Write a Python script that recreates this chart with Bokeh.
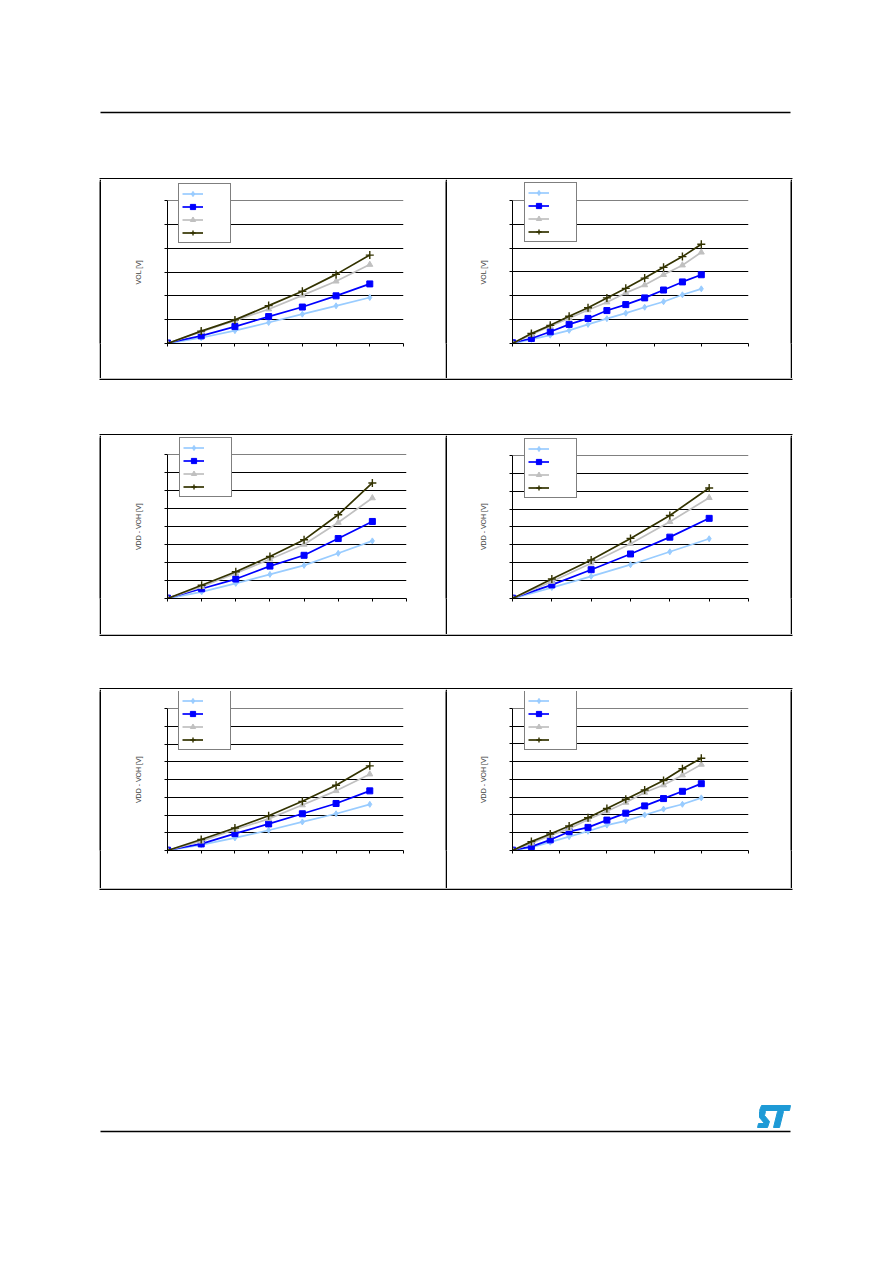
from bokeh.plotting import figure
from bokeh.layouts import column, row
from bokeh.models import Range1d, FixedTicker, Legend, LegendItem, Spacer, Grid
from bokeh.embed import file_html
from bokeh.resources import INLINE

# ---------------- data ----------------
COLORS = ["#99CCFF", "#0000FF", "#C0C0C0", "#333300"]

c1_x = [0, 1, 2, 3, 4, 5, 6]
c1_s1 = [0, 0.24, 0.54, 0.88, 1.23, 1.58, 1.93]
c1_s2 = [0.02, 0.32, 0.71, 1.13, 1.53, 2.0, 2.5]
c1_s3 = [0, 0.5, 0.96, 1.44, 2.02, 2.61, 3.31]
c1_s4 = [0, 0.52, 0.99, 1.59, 2.19, 2.9, 3.71]

c2_x = [0, 0.4, 0.8, 1.2, 1.6, 2.0, 2.4, 2.8, 3.2, 3.6, 4.0]
c2_s1 = [0, 0.17, 0.35, 0.55, 0.8, 1.04, 1.27, 1.52, 1.75, 2.04, 2.29]
c2_s2 = [0.03, 0.21, 0.49, 0.8, 1.05, 1.38, 1.63, 1.91, 2.24, 2.58, 2.88]
c2_s3 = [0, 0.38, 0.72, 1.06, 1.4, 1.73, 2.12, 2.45, 2.88, 3.28, 3.82]
c2_s4 = [0, 0.42, 0.76, 1.14, 1.5, 1.91, 2.31, 2.74, 3.19, 3.64, 4.16]

c3_x = [0, 1, 2, 3, 4, 5, 6]
c3_s1 = [0, 0.37, 0.84, 1.34, 1.84, 2.51, 3.2]
c3_s2 = [0.02, 0.54, 1.08, 1.8, 2.4, 3.33, 4.28]
c3_s3 = [0, 0.65, 1.4, 2.18, 3.0, 4.22, 5.58]
c3_s4 = [0, 0.74, 1.49, 2.33, 3.26, 4.65, 6.42]

c4_x = [0, 1, 2, 3, 4, 5]
c4_s1 = [0, 0.61, 1.24, 1.89, 2.61, 3.34]
c4_s2 = [0.02, 0.76, 1.61, 2.49, 3.43, 4.48]
c4_s3 = [0, 0.95, 1.97, 3.06, 4.29, 5.63]
c4_s4 = [0, 1.09, 2.15, 3.36, 4.64, 6.18]

c5_x = [0, 1, 2, 3, 4, 5, 6]
c5_s1 = [0, 0.32, 0.71, 1.14, 1.61, 2.07, 2.6]
c5_s2 = [0.02, 0.37, 0.95, 1.5, 2.07, 2.65, 3.36]
c5_s3 = [0, 0.52, 1.18, 1.78, 2.56, 3.36, 4.3]
c5_s4 = [0, 0.62, 1.27, 1.96, 2.77, 3.68, 4.77]

c6_x = [0, 0.4, 0.8, 1.2, 1.6, 2.0, 2.4, 2.8, 3.2, 3.6, 4.0]
c6_s1 = [0, 0.17, 0.47, 0.78, 1.08, 1.43, 1.67, 2.0, 2.33, 2.6, 2.96]
c6_s2 = [0.02, 0.22, 0.6, 1.06, 1.3, 1.71, 2.1, 2.51, 2.92, 3.33, 3.76]
c6_s3 = [0, 0.41, 0.84, 1.23, 1.74, 2.21, 2.7, 3.26, 3.68, 4.24, 4.84]
c6_s4 = [0, 0.5, 0.93, 1.38, 1.84, 2.36, 2.88, 3.4, 3.94, 4.6, 5.19]

YLABEL_OL = "VOL [V]"
YLABEL_OH = "VDD - VOH [V]"

ROW_H = 199
FRAME_TOP = 2
FONT = "Liberation Sans"
NBSP_W = 1.95  # width of a no-break space at 7px


def chart(x, series, xmax, ymax, ylabel, width, geom, leg):
    bl, br, pt, bb = geom
    frame_h = ROW_H - bb - FRAME_TOP
    plot_h = ROW_H - bb - pt
    y_end = ymax * frame_h / plot_h
    p = figure(width=width, height=ROW_H, output_backend="svg", toolbar_location=None,
               x_range=Range1d(0, xmax), y_range=Range1d(0, y_end),
               min_border_left=bl, min_border_right=br,
               min_border_top=FRAME_TOP, min_border_bottom=bb)
    p.outline_line_color = None
    p.background_fill_color = "white"
    p.border_fill_color = "white"

    p.ygrid.ticker = FixedTicker(ticks=list(range(1, ymax)))
    p.ygrid.grid_line_color = "black"
    p.ygrid.grid_line_width = 1
    p.ygrid.bounds = (0, xmax)
    # grey plot-area border (top and right)
    p.xgrid.ticker = FixedTicker(ticks=[xmax])
    p.xgrid.bounds = (0, ymax)
    p.xgrid.grid_line_color = "#808080"
    p.add_layout(Grid(dimension=1, ticker=FixedTicker(ticks=[ymax]), bounds=(0, xmax),
                      grid_line_color="#808080", grid_line_width=1))

    for ax, mx in ((p.xaxis, xmax), (p.yaxis, ymax)):
        ax.ticker = FixedTicker(ticks=list(range(0, mx + 1)))
        ax.bounds = (0, mx)
        ax.axis_line_color = "black"
        ax.axis_line_width = 1
        ax.major_tick_line_color = "black"
        ax.major_tick_out = 3
        ax.major_tick_in = 0
        ax.minor_tick_line_color = None
        ax.major_label_text_font_size = "0px"
        ax.major_label_standoff = 0
    # centre the title on the plot area (not the taller frame) with trailing no-break spaces
    pad = "\u00a0" * int(round((pt - FRAME_TOP) / NBSP_W))
    p.yaxis.axis_label = ylabel + pad
    p.yaxis.axis_label_text_font = FONT
    p.yaxis.axis_label_text_font_size = "7px"
    p.yaxis.axis_label_text_font_style = "normal"
    p.yaxis.axis_label_standoff = 23

    items = []
    specs = [("diamond", 6, 1), ("square", 6, 1), ("triangle", 6, 1), ("cross", 8, 1.4)]
    for ys, col, (mk, sz, lw) in zip(series, COLORS, specs):
        lr = p.line(x, ys, line_color=col, line_width=1.7)
        sr = p.scatter(x, ys, marker=mk, size=sz, fill_color=col, line_color=col, line_width=lw)
        items.append(LegendItem(label="\u00a0", renderers=[lr, sr]))

    legend = Legend(items=items, location=leg,
                    orientation="vertical", padding=3, spacing=0, margin=0,
                    glyph_width=21, glyph_height=13, label_standoff=4, label_width=20,
                    label_text_font_size="7px", label_text_font=FONT,
                    border_line_color="black", border_line_width=1,
                    background_fill_color="white", background_fill_alpha=1)
    p.add_layout(legend)
    return p


p1 = chart(c1_x, [c1_s1, c1_s2, c1_s3, c1_s4], 7, 6, YLABEL_OL, 344, (66, 42, 21, 35), (11, 100))
p2 = chart(c2_x, [c2_s1, c2_s2, c2_s3, c2_s4], 5, 6, YLABEL_OL, 343, (65, 42, 21, 33), (12, 101))
p3 = chart(c3_x, [c3_s1, c3_s2, c3_s3, c3_s4], 7, 8, YLABEL_OH, 344, (66, 39, 19, 36), (12, 101))
p4 = chart(c4_x, [c4_s1, c4_s2, c4_s3, c4_s4], 6, 8, YLABEL_OH, 343, (65, 42, 20, 35), (12, 100))
p5 = chart(c5_x, [c5_s1, c5_s2, c5_s3, c5_s4], 7, 8, YLABEL_OH, 344, (66, 42, 19, 38), (11, 100))
p6 = chart(c6_x, [c6_s1, c6_s2, c6_s3, c6_s4], 5, 8, YLABEL_OH, 343, (65, 42, 19, 36), (12, 100))

PAGE_W = 884


def blank(w, h, fill="white"):
    f = figure(width=w, height=h, output_backend="svg", toolbar_location=None,
               x_range=Range1d(0, w), y_range=Range1d(h, 0), min_border=0,
               x_axis_type=None, y_axis_type=None)
    f.grid.visible = False
    f.outline_line_color = None
    f.background_fill_color = fill
    f.border_fill_color = fill
    return f


# page decoration: header rule, chart frames, footer rule, logo
RULE_X = [100, 790]
BOX_X = [99, 792]
LW = 1.5

header = blank(PAGE_W, 179)
header.segment(x0=[RULE_X[0]], y0=[112], x1=[RULE_X[1]], y1=[112], line_color="black", line_width=1.3)
header.segment(x0=[BOX_X[0]], y0=[178.25], x1=[BOX_X[1]], y1=[178.25], line_color="black", line_width=LW)

gap1 = blank(PAGE_W, 57)
gap1.segment(x0=[BOX_X[0]] * 2, y0=[0.75, 56.25], x1=[BOX_X[1]] * 2, y1=[0.75, 56.25],
             line_color="black", line_width=LW)
gap2 = blank(PAGE_W, 55)
gap2.segment(x0=[BOX_X[0]] * 2, y0=[0.75, 54.25], x1=[BOX_X[1]] * 2, y1=[0.75, 54.25],
             line_color="black", line_width=LW)

footer = blank(PAGE_W, 360)
footer.segment(x0=[BOX_X[0]], y0=[0.75], x1=[BOX_X[1]], y1=[0.75], line_color="black", line_width=LW)
footer.segment(x0=[RULE_X[0]], y0=[243], x1=[RULE_X[1]], y1=[243], line_color="black", line_width=1.3)
LOGO = "#1E9AD6"
footer.patch([761, 790, 789, 759], [217, 217, 222, 222], color=LOGO)
footer.patch([759, 765, 764, 769, 767, 757, 758, 764, 759],
             [223, 223, 227, 233, 239, 239, 235, 235, 229], color=LOGO)
footer.patch([777, 783, 779, 773], [223, 223, 239, 239], color=LOGO)

LEFT = 99


def chart_row(a, b):
    return row(Spacer(width=LEFT, height=ROW_H), blank(2, ROW_H, "black"), a,
               blank(2, ROW_H, "black"), b, blank(2, ROW_H, "black"))


layout = column(
    header,
    chart_row(p1, p2),
    gap1,
    chart_row(p3, p4),
    gap2,
    chart_row(p5, p6),
    footer,
)

open("out.html", "w").write(file_html(layout, INLINE))
